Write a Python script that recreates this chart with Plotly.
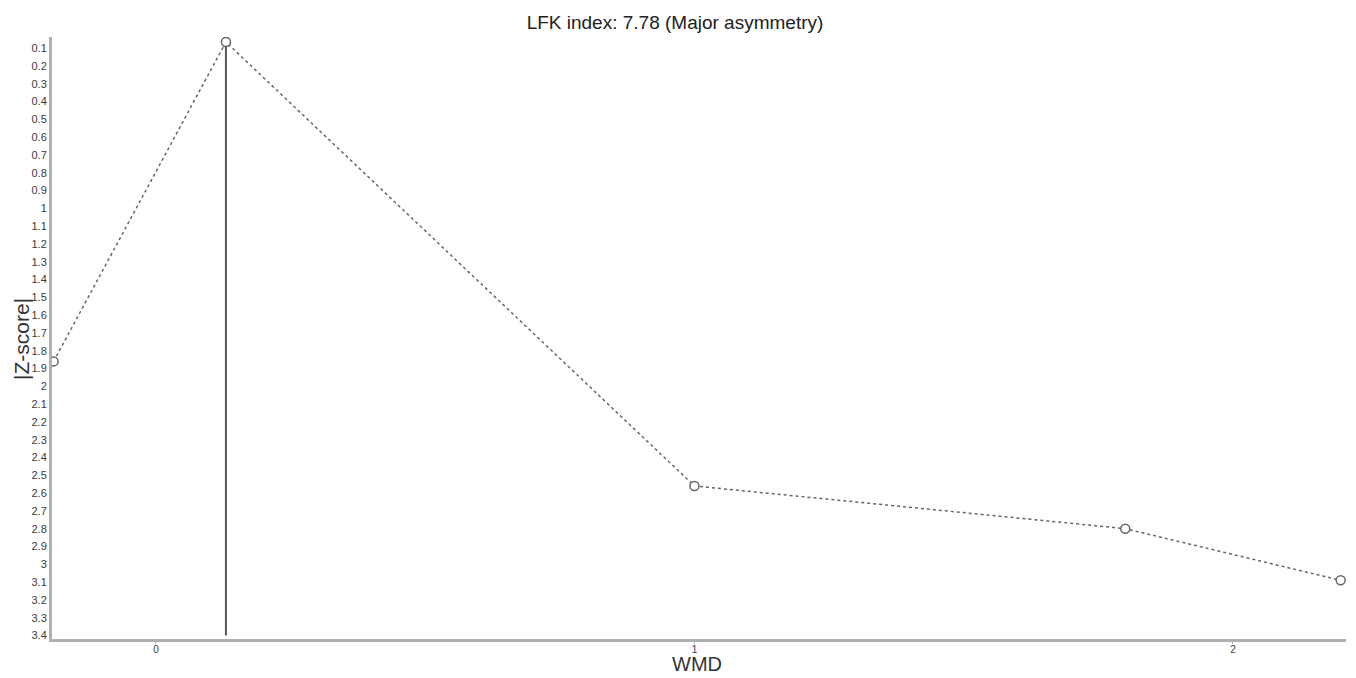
import plotly.graph_objects as go

# Data
wmd = [-0.19, 0.13, 1.00, 1.80, 2.20]
zscore = [1.86, 0.065, 2.56, 2.80, 3.09]
y_tick_vals = [round(0.1 * i, 1) for i in range(1, 35)]
y_tick_text = [("%g" % v) for v in y_tick_vals]
x_tick_vals = [0, 1, 2]
x_tick_text = ["0", "1", "2"]
title_text = "LFK index: 7.78 (Major asymmetry)"
x_title = "WMD"
y_title = "|Z-score|"

i_min = zscore.index(min(zscore))
line_bottom = 3.4

# page body has an 8px default margin; size figure to fit the 1356x678 window
W, H = 1348, 670
ML, MR, MT, MB = 44, 10, 29, 39
pw = W - ML - MR
ph = H - MT - MB

fig = go.Figure()
fig.add_trace(go.Scatter(
    x=[wmd[i_min], wmd[i_min]], y=[zscore[i_min], line_bottom],
    mode="lines", line=dict(color="#555555", width=2), hoverinfo="skip",
    showlegend=False))
fig.add_trace(go.Scatter(
    x=wmd, y=zscore, mode="lines+markers",
    line=dict(color="#666666", width=1.5, dash="dot"),
    marker=dict(symbol="circle", size=9, color="white",
                line=dict(width=1.5, color="#666666")),
    showlegend=False))

fig.update_layout(
    width=W, height=H,
    margin=dict(l=ML, r=MR, t=MT, b=MB),
    paper_bgcolor="white", plot_bgcolor="white",
    title=dict(text=title_text, x=(675 - 8) / W, xanchor="center",
               y=1 - (22 - 8) / H, yanchor="middle",
               font=dict(family="Arial, Liberation Sans", size=19, color="#222222")),
    font=dict(family="Arial, Liberation Sans", color="#333333"),
    xaxis=dict(range=[-0.193, 2.21], tickvals=x_tick_vals, ticktext=x_tick_text,
               automargin=False,
               showgrid=False, zeroline=False, showline=True, linecolor="#b0b0b0",
               linewidth=3, ticks="outside", ticklen=2, tickcolor="#b0b0b0",
               ticklabelstandoff=-3,
               tickfont=dict(size=10, color="#3a3a3a")),
    yaxis=dict(range=[3.42, 0.037], tickvals=y_tick_vals, ticktext=y_tick_text,
               automargin=False,
               showgrid=False, zeroline=False, showline=True, linecolor="#b0b0b0",
               linewidth=3, ticks="", tickfont=dict(size=11, color="#3a3a3a")),
    annotations=[
        dict(text=x_title, xref="paper", yref="paper",
             x=(697 - 8 - ML) / pw, y=-(664 - 8 - (MT + ph)) / ph,
             xanchor="center", yanchor="middle", showarrow=False,
             font=dict(size=20, color="#333333")),
        dict(text=y_title, xref="paper", yref="paper", textangle=-90,
             x=(21 - 8 - ML) / pw, y=1 - (339 - 8 - MT) / ph,
             xanchor="center", yanchor="middle", showarrow=False,
             font=dict(size=21, color="#333333")),
    ],
)

fig.write_html("out.html")
